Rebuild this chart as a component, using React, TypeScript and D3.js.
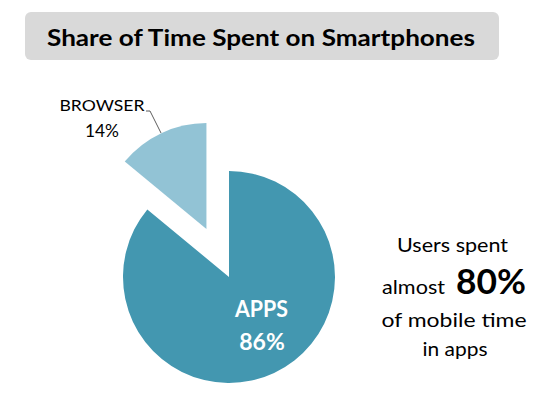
import React from "react";
import * as d3 from "d3";

const categories = ["APPS", "BROWSER"];
const values = [86, 14];
const colors = ["#4397b0", "#92c3d5"];
const title = "Share of Time Spent on Smartphones";
const noteLines = ["Users spent", "almost", "80%", "of mobile time", "in apps"];

export default function App() {
  const W = 540, H = 394;
  const cx = 229, cy = 277, r = 106, explode = 53;
  const pie = d3.pie<number>().sort(null).startAngle(0).endAngle(2 * Math.PI);
  const arcs = pie(values);
  const arc = d3.arc<d3.PieArcDatum<number>>().innerRadius(0).outerRadius(r);
  const font = "Lato, 'Open Sans', sans-serif";
  return (
    <svg width={W} height={H} style={{ position: "absolute", left: 0, top: 0, background: "#fff" }}>
      <rect x={25} y={12} width={474} height={48} rx={6} fill="#d9d9d9" />
      <text x={261} y={46} textAnchor="middle" fontFamily={font} fontWeight="bold" fontSize={22}
        textLength={428} lengthAdjust="spacingAndGlyphs" fill="#000">{title}</text>
      {arcs.map((a, i) => {
        const mid = (a.startAngle + a.endAngle) / 2;
        const off = categories[i] === "BROWSER" ? explode : 0;
        const dx = Math.sin(mid) * off, dy = -Math.cos(mid) * off;
        return (
          <path key={i} d={arc(a) || ""} transform={`translate(${cx + dx},${cy + dy})`} fill={colors[i]} />
        );
      })}
      <text x={261.5} y={317} textAnchor="middle" fontFamily={font} fontWeight="bold" fontSize={23} textLength={53} lengthAdjust="spacingAndGlyphs" fill="#fff">{categories[0]}</text>
      <text x={262} y={349.5} textAnchor="middle" fontFamily={font} fontWeight="bold" fontSize={23} fill="#fff">{values[0]}%</text>
      <text x={102} y={111} textAnchor="middle" fontFamily={font} fontSize={16} textLength={85} lengthAdjust="spacingAndGlyphs" fill="#000">{categories[1]}</text>
      <text x={102} y={137} textAnchor="middle" fontFamily={font} fontSize={16.5} textLength={34} lengthAdjust="spacingAndGlyphs" fill="#000">{values[1]}%</text>
      <polyline points="146,111 150,111 161,133" fill="none" stroke="#333" strokeWidth={0.8} />
      <text x={452.5} y={252} textAnchor="middle" fontFamily={font} fontSize={20} textLength={111} lengthAdjust="spacingAndGlyphs" fill="#000">{noteLines[0]}</text>
      <text x={382} y={293.5} fontFamily={font} fontSize={20} textLength={63} lengthAdjust="spacingAndGlyphs" fill="#000">{noteLines[1]}</text>
      <text x={456} y={293.5} fontFamily={font} fontSize={35} fontWeight="bold" textLength={70} lengthAdjust="spacingAndGlyphs" fill="#000">{noteLines[2]}</text>
      <text x={454} y={327} textAnchor="middle" fontFamily={font} fontSize={20} textLength={145} lengthAdjust="spacingAndGlyphs" fill="#000">{noteLines[3]}</text>
      <text x={455} y={356} textAnchor="middle" fontFamily={font} fontSize={20} textLength={65} lengthAdjust="spacingAndGlyphs" fill="#000">{noteLines[4]}</text>
    </svg>
  );
}
